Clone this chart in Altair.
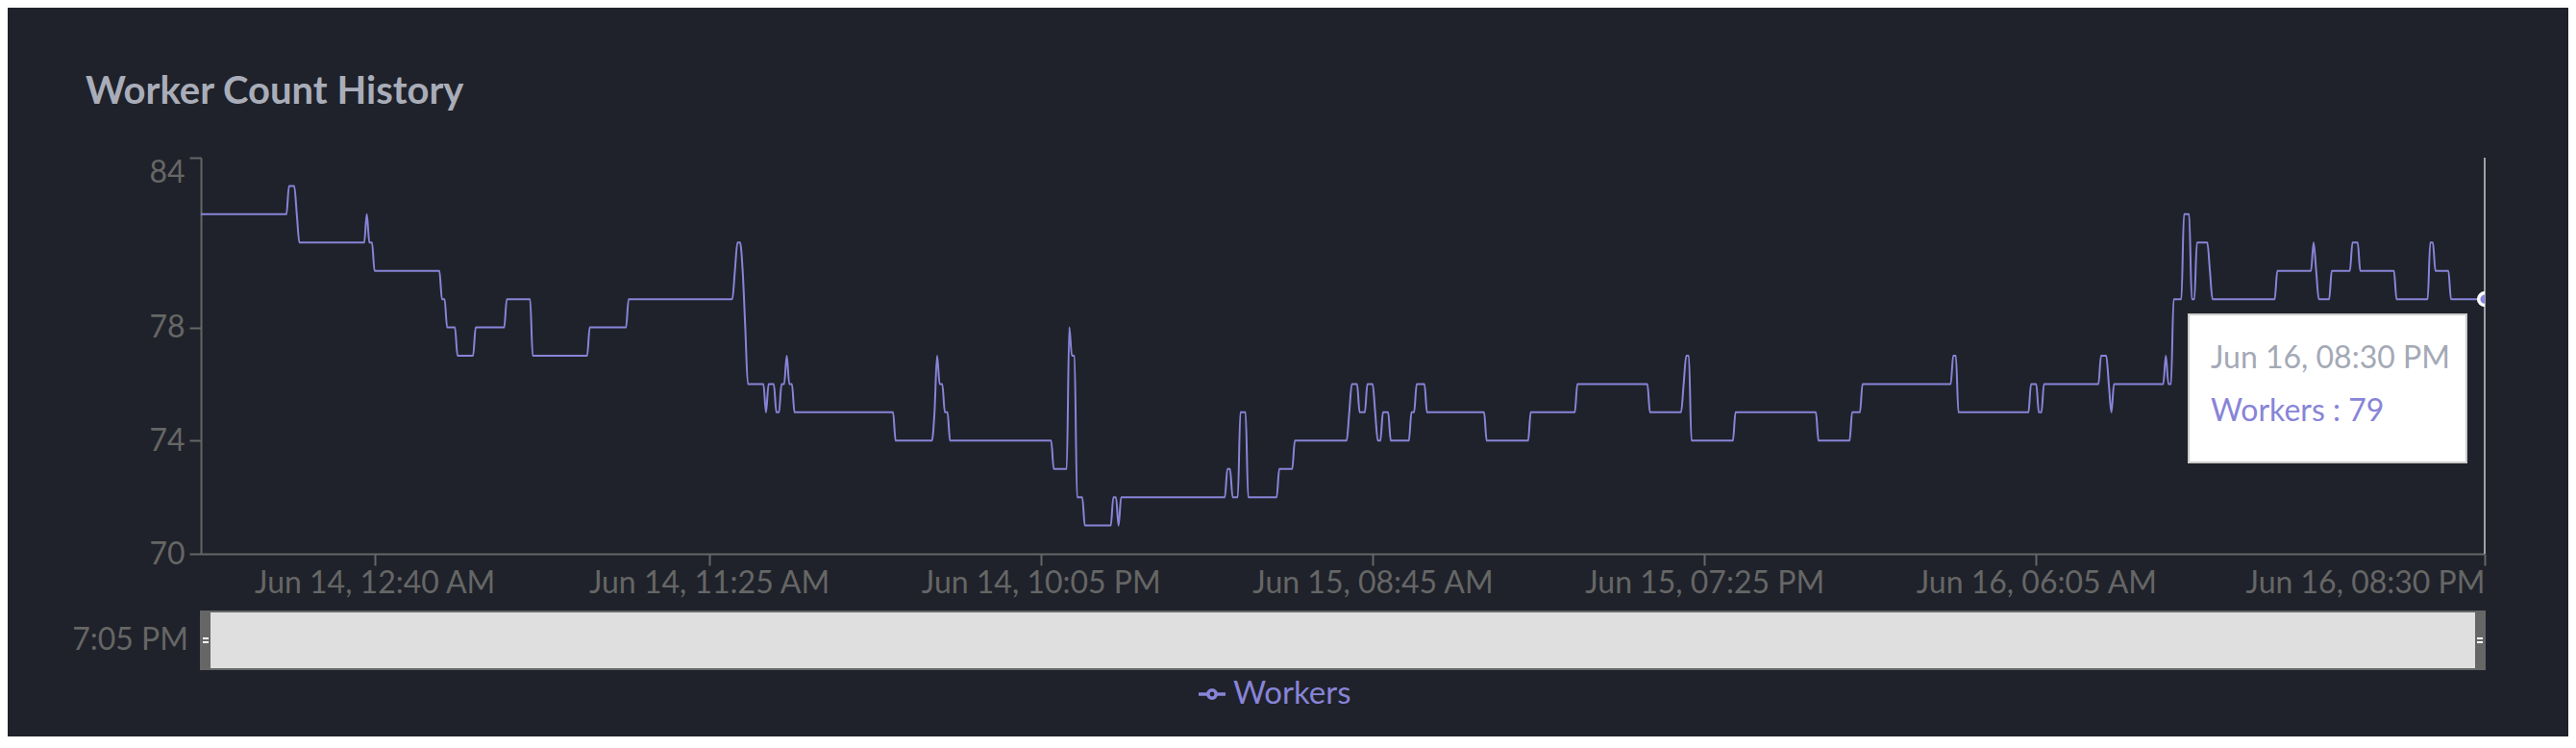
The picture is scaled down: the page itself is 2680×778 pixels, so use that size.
import altair as alt
import pandas as pd

YEAR = 2024
title_text = "Worker Count History"
series_name = "Workers"

# Flat runs of the worker count (value, first sample time, last sample time), samples every 5 min
run_value = [82, 83, 82, 81, 82, 81, 80, 79, 78, 77, 78, 79, 77, 78, 79, 80, 81, 80, 78, 76,
             75, 76, 75, 76, 77, 76, 75, 74, 75, 77, 76, 75, 74, 73, 78, 77, 72, 71, 72, 71,
             72, 73, 72, 75, 72, 73, 74, 75, 76, 75, 76, 75, 74, 75, 74, 75, 76, 75, 74, 75,
             76, 75, 76, 77, 74, 75, 74, 75, 76, 77, 75, 76, 75, 76, 77, 76, 75, 76, 77, 76,
             79, 82, 79, 81, 80, 79, 80, 81, 80, 79, 80, 81, 80, 79, 81, 80, 79]
run_start = ["06-13 19:05", "06-13 21:55", "06-13 22:10", "06-13 22:15", "06-14 00:25", "06-14 00:30",
             "06-14 00:40", "06-14 02:50", "06-14 03:00", "06-14 03:20", "06-14 03:55", "06-14 04:55",
             "06-14 05:45", "06-14 07:35", "06-14 08:50", "06-14 12:15", "06-14 12:20", "06-14 12:30",
             "06-14 12:35", "06-14 12:40", "06-14 13:15", "06-14 13:20", "06-14 13:35", "06-14 13:45",
             "06-14 13:55", "06-14 14:00", "06-14 14:10", "06-14 17:25", "06-14 18:40", "06-14 18:45",
             "06-14 18:50", "06-14 19:00", "06-14 19:10", "06-14 22:30", "06-14 23:00", "06-14 23:05",
             "06-14 23:15", "06-14 23:30", "06-15 00:25", "06-15 00:35", "06-15 00:40", "06-15 04:05",
             "06-15 04:15", "06-15 04:30", "06-15 04:45", "06-15 05:45", "06-15 06:15", "06-15 08:00",
             "06-15 08:05", "06-15 08:20", "06-15 08:35", "06-15 08:50", "06-15 08:55", "06-15 09:05",
             "06-15 09:20", "06-15 10:00", "06-15 10:10", "06-15 10:30", "06-15 12:25", "06-15 13:50",
             "06-15 15:20", "06-15 17:40", "06-15 18:45", "06-15 18:50", "06-15 19:00", "06-15 20:25",
             "06-15 23:05", "06-16 00:10", "06-16 00:30", "06-16 03:25", "06-16 03:35", "06-16 05:55",
             "06-16 06:10", "06-16 06:20", "06-16 08:10", "06-16 08:25", "06-16 08:30", "06-16 08:35",
             "06-16 10:15", "06-16 10:20", "06-16 10:30", "06-16 10:50", "06-16 11:05", "06-16 11:15",
             "06-16 11:40", "06-16 11:45", "06-16 13:50", "06-16 15:00", "06-16 15:05", "06-16 15:10",
             "06-16 15:35", "06-16 16:15", "06-16 16:30", "06-16 17:40", "06-16 18:45",
             "06-16 18:55", "06-16 19:25"]
run_end = ["06-13 21:50", "06-13 22:05", "06-13 22:10", "06-14 00:20", "06-14 00:25", "06-14 00:35",
           "06-14 02:45", "06-14 02:55", "06-14 03:15", "06-14 03:50", "06-14 04:50", "06-14 05:40",
           "06-14 07:30", "06-14 08:45", "06-14 12:10", "06-14 12:15", "06-14 12:25", "06-14 12:30",
           "06-14 12:35", "06-14 13:10", "06-14 13:15", "06-14 13:30", "06-14 13:40", "06-14 13:50",
           "06-14 13:55", "06-14 14:05", "06-14 17:20", "06-14 18:35", "06-14 18:40", "06-14 18:45",
           "06-14 18:55", "06-14 19:05", "06-14 22:25", "06-14 22:55", "06-14 23:00", "06-14 23:10",
           "06-14 23:25", "06-15 00:20", "06-15 00:30", "06-15 00:35", "06-15 04:00", "06-15 04:10",
           "06-15 04:25", "06-15 04:40", "06-15 05:40", "06-15 06:10", "06-15 07:55", "06-15 08:00",
           "06-15 08:15", "06-15 08:30", "06-15 08:45", "06-15 08:50", "06-15 09:00", "06-15 09:15",
           "06-15 09:55", "06-15 10:05", "06-15 10:25", "06-15 12:20", "06-15 13:45", "06-15 15:15",
           "06-15 17:35", "06-15 18:40", "06-15 18:45", "06-15 18:55", "06-15 20:20", "06-15 23:00",
           "06-16 00:05", "06-16 00:25", "06-16 03:20", "06-16 03:30", "06-16 05:50", "06-16 06:05",
           "06-16 06:15", "06-16 08:05", "06-16 08:20", "06-16 08:25", "06-16 08:30", "06-16 10:10",
           "06-16 10:15", "06-16 10:25", "06-16 10:45", "06-16 11:00", "06-16 11:10", "06-16 11:35",
           "06-16 11:40", "06-16 13:45", "06-16 14:55", "06-16 15:00", "06-16 15:05", "06-16 15:30",
           "06-16 16:10", "06-16 16:25", "06-16 17:35", "06-16 18:40", "06-16 18:50",
           "06-16 19:20", "06-16 20:30"]

tick_times = ["06-14 00:40", "06-14 11:25", "06-14 22:05", "06-15 08:45",
              "06-15 19:25", "06-16 06:05", "06-16 20:30"]
y_ticks = [70, 74, 78, 84]
y_domain = [70, 84]

# ---------- styling ----------
W, H = 2376, 412
BG = "#1f222a"
AX = "#666666"
PURPLE = "#8884d8"
FONT = "Lato"
FS = 32


def ts(s):
    return pd.Timestamp(f"{YEAR}-{s}")


def dt(s):
    t = ts(s)
    return alt.DateTime(year=t.year, month=t.month, date=t.day, hours=t.hour, minutes=t.minute)


rows = []
for v, s, e in zip(run_value, run_start, run_end):
    rows.append({"time": ts(s).strftime("%Y-%m-%dT%H:%M:%S"), series_name: v})
    if e != s:
        rows.append({"time": ts(e).strftime("%Y-%m-%dT%H:%M:%S"), series_name: v})
df = pd.DataFrame(rows)
last_df = df.tail(1)

x_scale = alt.Scale(domain=[dt(run_start[0]), dt(run_end[-1])], nice=False)
y_scale = alt.Scale(domain=y_domain, nice=False, zero=False)

x_axis = alt.Axis(values=[dt(s) for s in tick_times], format="%b %d, %I:%M %p", title=None,
                  grid=False, domainColor=AX, domainWidth=2, tickColor=AX, tickWidth=2,
                  tickSize=12, labelColor=AX, labelFont=FONT, labelFontSize=FS,
                  labelPadding=3, labelFlush=1, labelOverlap=False, labelLimit=0)
y_axis = alt.Axis(values=y_ticks, title=None, grid=False, domainColor=AX, domainWidth=2,
                  tickColor=AX, tickWidth=2, tickSize=12, labelColor=AX, labelFont=FONT,
                  labelFontSize=FS, labelPadding=5, labelOverlap=False, labelLimit=0,
                  labelBaseline={"condition": {"test": "datum.value == 84", "value": "top"},
                                 "value": "middle"})

X = alt.X("time:T", scale=x_scale, axis=x_axis)
Y = alt.Y(f"{series_name}:Q", scale=y_scale, axis=y_axis)

cursor = alt.Chart(last_df).mark_rule(color="#cccccc", strokeWidth=1.5).encode(
    x=alt.X("time:T", scale=x_scale))
line = alt.Chart(df).mark_line(color=PURPLE, strokeWidth=2, interpolate="monotone").encode(x=X, y=Y)
dot = alt.Chart(last_df).mark_point(shape="circle", filled=True, fill=PURPLE, stroke="white",
                                    strokeWidth=3.5, size=160, opacity=1, clip=True).encode(
    x=alt.X("time:T", scale=x_scale), y=alt.Y(f"{series_name}:Q", scale=y_scale))

one = pd.DataFrame({"k": [0]})
last_t = ts(run_end[-1])
tip_label = last_t.strftime("%b %d, %I:%M %p")
tip_value = f"{series_name} : {run_value[-1]}"
first_label = ts(run_start[0]).strftime("%b %d, %I:%M %p")

tip_box = alt.Chart(one).mark_rect(fill="white", stroke="#cccccc", strokeWidth=2).encode(
    x=alt.value(2068), x2=alt.value(2357), y=alt.value(163), y2=alt.value(317))
tip_t1 = alt.Chart(one).mark_text(align="left", baseline="alphabetic", font=FONT, fontSize=FS,
                                  color="#a4a9b6").encode(
    x=alt.value(2091), y=alt.value(219), text=alt.value(tip_label))
tip_t2 = alt.Chart(one).mark_text(align="left", baseline="alphabetic", font=FONT, fontSize=FS,
                                  color=PURPLE).encode(
    x=alt.value(2091), y=alt.value(274), text=alt.value(tip_value))

# brush under the plot
brush_bg = alt.Chart(one).mark_rect(fill="#dfdfdf", stroke=AX, strokeWidth=2).encode(
    x=alt.value(0), x2=alt.value(W), y=alt.value(472), y2=alt.value(532))
trav_l = alt.Chart(one).mark_rect(fill=AX).encode(
    x=alt.value(0), x2=alt.value(10), y=alt.value(472), y2=alt.value(532))
trav_r = alt.Chart(one).mark_rect(fill=AX).encode(
    x=alt.value(W - 10), x2=alt.value(W), y=alt.value(472), y2=alt.value(532))
handles = []
for x0 in (0, W - 10):
    for yy in (500, 504):
        handles.append(alt.Chart(one).mark_rule(color="white", strokeWidth=2).encode(
            x=alt.value(x0 + 2), x2=alt.value(x0 + 8), y=alt.value(yy)))
brush_txt = alt.Chart(one).mark_text(align="right", baseline="middle", font=FONT, fontSize=FS,
                                     color=AX).encode(
    x=alt.value(-13), y=alt.value(502), text=alt.value(first_label[9:]))

# legend
leg_line = alt.Chart(one).mark_rule(color=PURPLE, strokeWidth=3.5).encode(
    x=alt.value(1038), x2=alt.value(1066), y=alt.value(558))
leg_dot = alt.Chart(one).mark_point(shape="circle", filled=True, fill=BG, stroke=PURPLE,
                                    strokeWidth=3.5, size=70, opacity=1).encode(
    x=alt.value(1052), y=alt.value(558))
leg_txt = alt.Chart(one).mark_text(align="left", baseline="middle", font=FONT, fontSize=33,
                                   color=PURPLE).encode(
    x=alt.value(1074), y=alt.value(558), text=alt.value(series_name))

title = alt.Chart(one).mark_text(align="left", baseline="alphabetic", font=FONT, fontSize=40,
                                 fontWeight="bold", color="#a9adb9").encode(
    x=alt.value(-120), y=alt.value(-56), text=alt.value(title_text))

chart = alt.layer(
    cursor, line, dot, tip_box, tip_t1, tip_t2, brush_bg, trav_l, trav_r, *handles, brush_txt,
    leg_line, leg_dot, leg_txt, title
).properties(
    width=W, height=H,
    padding={"left": 201, "top": 156, "right": 87, "bottom": 190},
    autosize=alt.AutoSizeParams(type="none"),
).configure(background=BG).configure_view(stroke=None)

chart.save("out.html", embed_options={"renderer": "svg", "actions": False})
